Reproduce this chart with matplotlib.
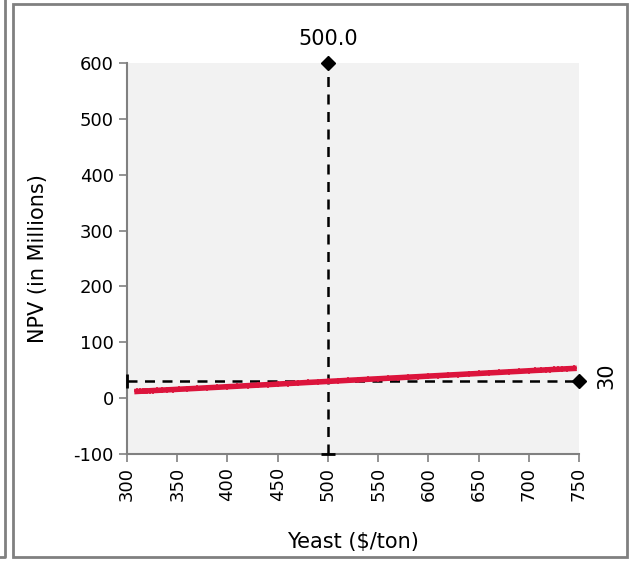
import matplotlib
matplotlib.use('Agg')
import matplotlib.pyplot as plt
from matplotlib.patches import Rectangle

plt.rcParams['axes.unicode_minus'] = False

# simulated yeast price vs NPV
yeast_price = [310, 313, 316, 318, 320, 323, 326, 330, 335, 340, 346, 352, 360,
               370, 380, 390, 400, 410, 420, 430, 440, 450, 460, 470, 480, 490,
               500, 510, 520, 530, 540, 550, 560, 570, 580, 590, 600, 610, 620,
               630, 640, 650, 660, 670, 680, 690, 700, 706, 712, 717, 721, 725,
               729, 733, 738, 745]
npv = [12.0, 12.3, 12.6, 12.8, 13.0, 13.3, 13.6, 13.9, 14.4, 14.9, 15.4, 16.0,
       16.7, 17.6, 18.6, 19.5, 20.5, 21.4, 22.4, 23.3, 24.2, 25.2, 26.2, 27.1,
       28.1, 29.0, 30.0, 30.9, 31.9, 32.8, 33.8, 34.7, 35.7, 36.6, 37.6, 38.5,
       39.5, 40.4, 41.4, 42.3, 43.3, 44.2, 45.2, 46.1, 47.1, 48.0, 49.0, 49.6,
       50.1, 50.6, 51.0, 51.4, 51.7, 52.1, 52.6, 53.2]

base_price = 500.0
base_npv = 30
x_min, x_max = 300, 750
y_min, y_max = -100, 600
x_ticks = [300, 350, 400, 450, 500, 550, 600, 650, 700, 750]
y_ticks = [-100, 0, 100, 200, 300, 400, 500, 600]

fig = plt.figure(figsize=(6.29, 5.61), dpi=100)
ax = fig.add_axes([0.2019, 0.1907, 0.7186, 0.697])
ax.set_facecolor('#f2f2f2')

# base case cross-hairs
ax.plot([base_price, base_price], [y_min, y_max], 'k--', lw=1.8, dashes=(4, 3), zorder=3)
ax.plot([base_price], [y_min], marker='_', color='k', ms=10, mew=2, zorder=4, clip_on=False)
ax.plot([base_price], [y_max], marker='D', color='k', ms=7, zorder=4, clip_on=False)
ax.plot([x_min, x_max], [base_npv, base_npv], 'k--', lw=1.8, dashes=(4, 3), zorder=3)
ax.plot([x_min], [base_npv], marker='|', color='k', ms=10, mew=2, zorder=4, clip_on=False)
ax.plot([x_max], [base_npv], marker='D', color='k', ms=7, zorder=4, clip_on=False)

# simulated points
ax.plot(yeast_price, npv, color='#dc143c', lw=4, marker='+', ms=4, mew=1.2, zorder=5)

ax.text(base_price, y_max + 25, '%.1f' % base_price, ha='center', va='bottom', fontsize=15)
ax.text(777, 41, str(base_npv), ha='center', va='center', rotation=90, fontsize=15, clip_on=False)

ax.set_xlim(x_min, x_max)
ax.set_ylim(y_min, y_max)
ax.set_xticks(x_ticks)
ax.set_yticks(y_ticks)
ax.tick_params(axis='x', labelrotation=90, labelsize=13, color='#808080', length=6, width=1.2)
ax.tick_params(axis='y', labelsize=13, color='#808080', length=6, width=1.2)
for s in ['top', 'right']:
    ax.spines[s].set_visible(False)
for s in ['left', 'bottom']:
    ax.spines[s].set_color('#808080')
    ax.spines[s].set_linewidth(1.5)
ax.set_xlabel('Yeast ($/ton)', fontsize=15)
ax.set_ylabel('NPV (in Millions)', fontsize=15)
ax.xaxis.set_label_coords(0.5, -0.2)
ax.yaxis.set_label_coords(-0.175, 0.5)

# chart frame
fig.patches.append(Rectangle((13 / 629, 4 / 561), 614 / 629, 553 / 561, transform=fig.transFigure,
                             fill=False, edgecolor='#808080', lw=2))
fig.add_artist(plt.Line2D([5 / 629, 5 / 629, 0], [1, 4 / 561, 4 / 561], transform=fig.transFigure,
                          color='#808080', lw=2))

fig.savefig('out.png', dpi=100)
